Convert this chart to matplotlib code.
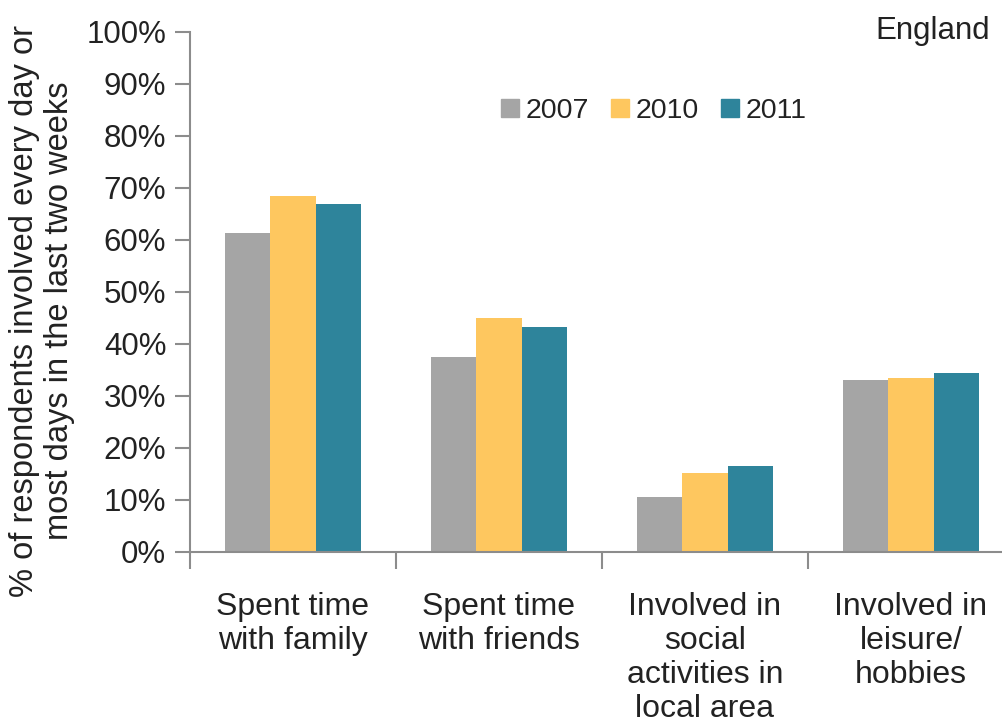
import numpy as np
import matplotlib
matplotlib.use("Agg")
import matplotlib.pyplot as plt
from matplotlib.lines import Line2D

# Chart data
categories = ["Spent time\nwith family", "Spent time\nwith friends",
              "Involved in\nsocial\nactivities in\nlocal area",
              "Involved in\nleisure/\nhobbies"]
years = ["2007", "2010", "2011"]
vals_2007 = [61.3, 37.5, 10.6, 33.0]
vals_2010 = [68.4, 44.9, 15.1, 33.4]
vals_2011 = [66.9, 43.2, 16.5, 34.4]
colors = ["#A5A5A5", "#FEC75F", "#2E849B"]

plt.rcParams['font.family'] = ['Liberation Sans', 'DejaVu Sans']

fig = plt.figure(figsize=(10.03, 7.27), dpi=100)
ax = fig.add_axes([0.1894, 0.2411, 0.8215, 0.7153])

x = np.arange(len(categories))
bw = 0.221
for i, (vals, col) in enumerate(zip([vals_2007, vals_2010, vals_2011], colors)):
    ax.bar(x + (i - 1) * bw, vals, width=bw, color=col, label=years[i])

ax.set_xlim(-0.5, 3.5)
ax.set_ylim(0, 100)
ax.set_yticks(np.arange(0, 101, 10))
ax.set_yticklabels([f"{v}%" for v in range(0, 101, 10)])
ax.set_xticks(x)
ax.set_xticklabels(categories, linespacing=1.17, va="top")
ax.set_xticks([-0.5, 0.5, 1.5, 2.5], minor=True)

for s in ["top", "right"]:
    ax.spines[s].set_visible(False)
for s in ["left", "bottom"]:
    ax.spines[s].set_color("#8c8c8c")
    ax.spines[s].set_linewidth(1.5)

ax.tick_params(axis="y", length=11, width=1.5, color="#8c8c8c",
               labelsize=22.5, labelcolor="#222222", pad=6)
ax.tick_params(axis="x", which="major", length=0, labelsize=23,
               labelcolor="#222222", pad=29)
ax.tick_params(axis="x", which="minor", length=12, width=1.5, color="#8c8c8c")

fig.text(0.042, 0.572, "% of respondents involved every day or\nmost days in the last two weeks",
         rotation=90, ha="center", va="center", fontsize=23.5, color="#222222",
         linespacing=1.15)

fig.text(0.987, 0.958, "England", ha="right", va="center", fontsize=22.5, color="#222222")

handles = [Line2D([], [], marker="s", linestyle="none", markersize=13,
                  markerfacecolor=c, markeredgecolor=c) for c in colors]
fig.legend(handles, years, loc="center", bbox_to_anchor=(0.652, 0.848), ncol=3,
           frameon=False, fontsize=20.5, handlelength=0.6, handletextpad=0.25,
           columnspacing=0.8, labelcolor="#222222")

fig.savefig("out.png", dpi=100)
